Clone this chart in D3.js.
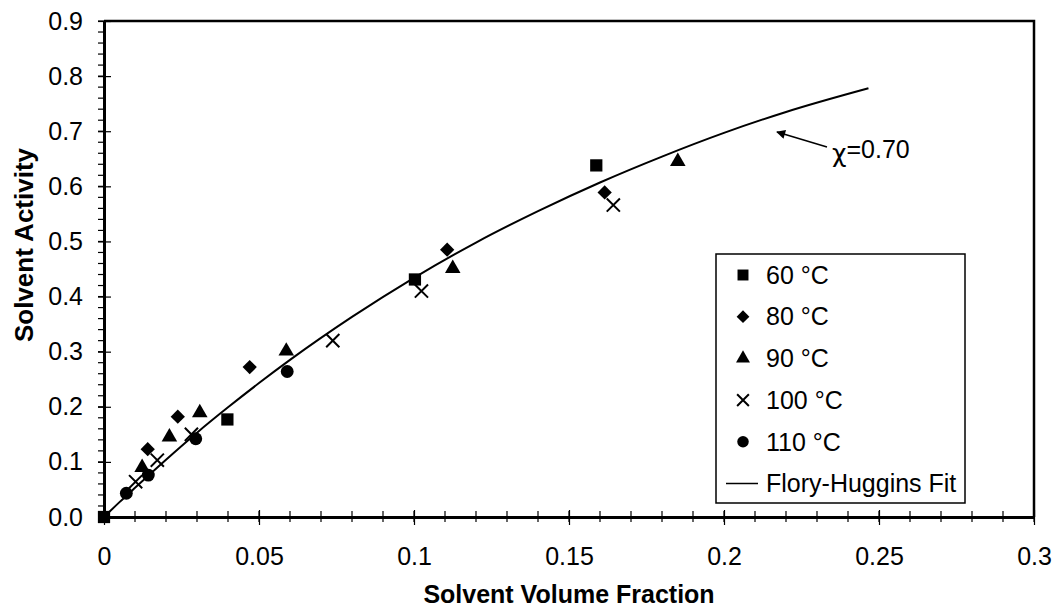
<!DOCTYPE html>
<html>
<head>
<meta charset="utf-8">
<script src="https://cdn.jsdelivr.net/npm/d3@7"></script>
<style>
  body { margin: 0; background: #fff; }
  text { font-family: "Liberation Sans", Arial, sans-serif; fill: #000; }
</style>
</head>
<body>
<div id="chart"></div>
<script>
// chart size
let svgWidth = 1052;
let svgHeight = 609;

// data (x = solvent volume fraction, y = solvent activity)
let t60x = [0, 0.0398, 0.1003, 0.1588];
let t60y = [0, 0.177, 0.431, 0.638];
let t80x = [0.0141, 0.0238, 0.047, 0.1107, 0.1615];
let t80y = [0.123, 0.182, 0.272, 0.485, 0.589];
let t90x = [0.0123, 0.0211, 0.0309, 0.0588, 0.1125, 0.1851];
let t90y = [0.090, 0.145, 0.189, 0.301, 0.451, 0.645];
let t100x = [0.0102, 0.0172, 0.0282, 0.0738, 0.1024, 0.1643];
let t100y = [0.064, 0.103, 0.150, 0.320, 0.410, 0.566];
let t110x = [0.0072, 0.0143, 0.0296, 0.0591];
let t110y = [0.043, 0.076, 0.142, 0.264];

// Flory-Huggins fit line
let fitX = [0, 0.005, 0.01, 0.02, 0.03, 0.04, 0.05, 0.06, 0.08, 0.1, 0.12, 0.14, 0.16, 0.18, 0.2, 0.22, 0.2466];
let fitY = [0, 0.027, 0.053, 0.104, 0.153, 0.199, 0.243, 0.285, 0.363, 0.434, 0.498, 0.555, 0.607, 0.654, 0.697, 0.735, 0.778];

let seriesNames = ["60 °C", "80 °C", "90 °C", "100 °C", "110 °C"];
let fitName = "Flory-Huggins Fit";
let xTickLabels = ["0", "0.05", "0.1", "0.15", "0.2", "0.25", "0.3"];
let yTickLabels = ["0.0", "0.1", "0.2", "0.3", "0.4", "0.5", "0.6", "0.7", "0.8", "0.9"];
let chiLabel = "=0.70";

let plot = { left: 104, right: 1034, top: 21, bottom: 517 };

let svg = d3.select("#chart")
  .append("svg")
  .attr("width", svgWidth)
  .attr("height", svgHeight);

let x = d3.scaleLinear().domain([0, 0.3]).range([plot.left, plot.right]);
let y = d3.scaleLinear().domain([0, 0.9]).range([plot.bottom, plot.top]);

// frame top + right
svg.append("path")
  .attr("d", `M${plot.left},${plot.top}H${plot.right}V${plot.bottom}`)
  .attr("fill", "none")
  .attr("stroke", "#000")
  .attr("stroke-width", 2.5);

// y axis: major ticks crossing, minor ticks outside
let yMinor = d3.range(0, 0.9001, 0.02);
svg.append("g").selectAll("line")
  .data(yMinor)
  .enter()
  .append("line")
  .attr("x1", plot.left - 6)
  .attr("x2", plot.left)
  .attr("y1", d => y(d))
  .attr("y2", d => y(d))
  .attr("stroke", "#000")
  .attr("stroke-width", 1.2);

let yAxis = d3.axisLeft(y)
  .tickValues(d3.range(0, 10).map(i => i / 10))
  .tickFormat((d, i) => yTickLabels[i])
  .tickSizeInner(6)
  .tickSizeOuter(0)
  .tickPadding(15);

let gy = svg.append("g")
  .attr("transform", `translate(${plot.left},0)`)
  .call(yAxis);
gy.selectAll(".tick line").attr("x2", 7).attr("x1", -6).attr("stroke-width", 1.2);
gy.select(".domain").attr("stroke-width", 3);
gy.selectAll(".tick text").style("font-size", "25px");

// x axis: minor ticks every 0.01
let xMinor = d3.range(0, 0.3001, 0.01);
svg.append("g").selectAll("line")
  .data(xMinor)
  .enter()
  .append("line")
  .attr("x1", d => x(d))
  .attr("x2", d => x(d))
  .attr("y1", plot.bottom - 6)
  .attr("y2", plot.bottom + 5)
  .attr("stroke", "#000")
  .attr("stroke-width", 1.2);

let xAxis = d3.axisBottom(x)
  .tickValues(d3.range(0, 7).map(i => i * 0.05))
  .tickFormat((d, i) => xTickLabels[i])
  .tickSizeInner(8)
  .tickSizeOuter(0)
  .tickPadding(22);

let gx = svg.append("g")
  .attr("transform", `translate(0,${plot.bottom})`)
  .call(xAxis);
gx.selectAll(".tick line").attr("y1", -7).attr("stroke-width", 1.2);
gx.select(".domain").attr("stroke-width", 3);
gx.selectAll(".tick text").style("font-size", "25px");

// axis titles
svg.append("text")
  .attr("x", (plot.left + plot.right) / 2)
  .attr("y", 603)
  .attr("text-anchor", "middle")
  .style("font-size", "25px")
  .style("font-weight", "bold")
  .text("Solvent Volume Fraction");

svg.append("text")
  .attr("transform", "translate(33,245) rotate(-90)")
  .attr("text-anchor", "middle")
  .style("font-size", "26px")
  .style("font-weight", "bold")
  .text("Solvent Activity");

// fit line
let fitData = fitX.map((d, i) => [d, fitY[i]]);
svg.append("path")
  .datum(fitData)
  .attr("fill", "none")
  .attr("stroke", "#000")
  .attr("stroke-width", 2)
  .attr("d", d3.line().x(d => x(d[0])).y(d => y(d[1])).curve(d3.curveMonotoneX));

// markers
let symbols = [
  { type: d3.symbolSquare, size: 150, stroke: false },
  { type: d3.symbolDiamond2, size: 130, stroke: false },
  { type: d3.symbolTriangle, size: 105, stroke: false },
  { type: d3.symbolX, size: 115, stroke: true },
  { type: d3.symbolCircle, size: 130, stroke: false }
];
let seriesX = [t60x, t80x, t90x, t100x, t110x];
let seriesY = [t60y, t80y, t90y, t100y, t110y];

seriesX.forEach((xs, s) => {
  let pts = xs.map((d, i) => [d, seriesY[s][i]]);
  let sym = symbols[s];
  svg.append("g").selectAll("path")
    .data(pts)
    .enter()
    .append("path")
    .attr("transform", d => `translate(${x(d[0])},${y(d[1])})`)
    .attr("d", d3.symbol().type(sym.type).size(sym.size))
    .attr("fill", sym.stroke ? "none" : "#000")
    .attr("stroke", sym.stroke ? "#000" : "none")
    .attr("stroke-width", 2);
});

// chi annotation with arrow
svg.append("defs").append("marker")
  .attr("id", "arrow")
  .attr("viewBox", "0 0 10 10")
  .attr("refX", 9)
  .attr("refY", 5)
  .attr("markerWidth", 7)
  .attr("markerHeight", 6)
  .attr("orient", "auto")
  .append("path")
  .attr("d", "M0,0L10,5L0,10Z")
  .attr("fill", "#000");

svg.append("line")
  .attr("x1", 827).attr("y1", 147)
  .attr("x2", 777).attr("y2", 132)
  .attr("stroke", "#000")
  .attr("stroke-width", 1.5)
  .attr("marker-end", "url(#arrow)");

let chi = svg.append("text")
  .attr("x", 832)
  .attr("y", 158)
  .style("font-size", "25px");
chi.append("tspan").style("font-family", "DejaVu Sans").attr("dy", 4).text("χ");
chi.append("tspan").attr("dy", -4).text(chiLabel);

// legend
let legend = svg.append("g");
legend.append("rect")
  .attr("x", 716).attr("y", 254)
  .attr("width", 249).attr("height", 249)
  .attr("fill", "#fff")
  .attr("stroke", "#000")
  .attr("stroke-width", 1.5);

seriesNames.forEach((name, i) => {
  let cy = 275 + i * 41.7;
  let sym = symbols[i];
  legend.append("path")
    .attr("transform", `translate(743,${cy})`)
    .attr("d", d3.symbol().type(sym.type).size(sym.size * 0.8))
    .attr("fill", sym.stroke ? "none" : "#000")
    .attr("stroke", sym.stroke ? "#000" : "none")
    .attr("stroke-width", 2);
  legend.append("text")
    .attr("x", 766)
    .attr("y", cy)
    .attr("dy", "0.35em")
    .style("font-size", "25px")
    .text(name);
});

let fy = 275 + 5 * 41.7;
legend.append("line")
  .attr("x1", 726).attr("x2", 758)
  .attr("y1", fy).attr("y2", fy)
  .attr("stroke", "#000")
  .attr("stroke-width", 1.5);
legend.append("text")
  .attr("x", 766)
  .attr("y", fy)
  .attr("dy", "0.35em")
  .style("font-size", "25px")
  .text(fitName);
</script>
</body>
</html>
